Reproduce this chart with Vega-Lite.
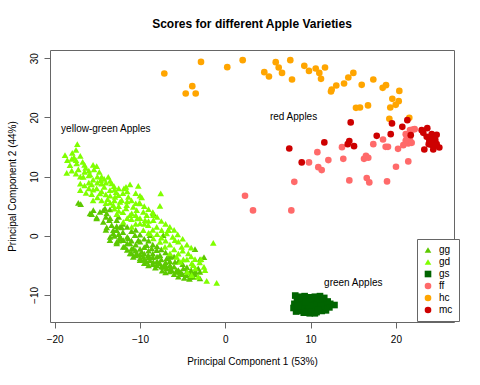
{
 "$schema": "https://vega.github.io/schema/vega-lite/v6.json",
 "width": 404,
 "height": 272,
 "autosize": {"type": "none"},
 "padding": {"left": 50, "top": 50, "right": 26, "bottom": 63},
 "background": "white",
 "title": {"text": "Scores for different Apple Varieties", "font": "Liberation Sans", "fontSize": 12, "fontWeight": "bold", "color": "#000", "anchor": "middle", "offset": 19},
 "config": {"view": {"stroke": "#666", "strokeWidth": 1}, "font": "Liberation Sans"},
 "layer": [
  {
   "data": {"values": [
    {"g":"gg","x":-17.23,"y":5.57},{"g":"gg","x":-16.95,"y":5.35},{"g":"gg","x":-15.47,"y":4.34},{"g":"gg","x":-15.66,"y":3.67},{"g":"gg","x":-14.69,"y":4.05},{"g":"gg","x":-15.08,"y":3.11},{"g":"gg","x":-14.3,"y":2.36},{"g":"gg","x":-13.6,"y":2.65},{"g":"gg","x":-13.32,"y":1.81},{"g":"gg","x":-13.9,"y":1.42},{"g":"gg","x":-12.73,"y":1.64},{"g":"gg","x":-14.1,"y":4.63},{"g":"gg","x":-13.52,"y":4.46},{"g":"gg","x":-12.73,"y":2.65},{"g":"gg","x":-12.15,"y":1.42},{"g":"gg","x":-15.86,"y":3.78},{"g":"gg","x":-15.08,"y":2.94},{"g":"gg","x":-13.13,"y":0.96},{"g":"gg","x":-13.52,"y":-0.73},{"g":"gg","x":-12.73,"y":-1.28},{"g":"gg","x":-11.96,"y":-1.86},{"g":"gg","x":-11.17,"y":-2.97},{"g":"gg","x":-10.79,"y":-3.55},{"g":"gg","x":-10.0,"y":-4.1},{"g":"gg","x":-9.21,"y":-4.39},{"g":"gg","x":-8.04,"y":-4.95},{"g":"gg","x":-7.27,"y":-5.24},{"g":"gg","x":-6.48,"y":-5.51},{"g":"gg","x":-5.7,"y":-6.08},{"g":"gg","x":-5.11,"y":-6.35},{"g":"gg","x":-4.53,"y":-6.64},{"g":"gg","x":-3.75,"y":-6.93},{"g":"gg","x":-2.97,"y":-7.2},{"g":"gg","x":-3.55,"y":-2.25},{"g":"gg","x":-13.9,"y":3.78},{"g":"gg","x":-14.3,"y":4.34},{"g":"gg","x":-12.73,"y":0.96},{"g":"gg","x":-13.13,"y":0.41},{"g":"gg","x":-12.34,"y":-0.17},{"g":"gg","x":-11.96,"y":-0.73},{"g":"gg","x":-12.73,"y":-1.01},{"g":"gg","x":-11.37,"y":-0.44},{"g":"gg","x":-11.17,"y":-1.28},{"g":"gg","x":-11.76,"y":-1.86},{"g":"gg","x":-10.79,"y":-2.13},{"g":"gg","x":-10.39,"y":-2.97},{"g":"gg","x":-10.97,"y":-2.97},{"g":"gg","x":-9.8,"y":-2.7},{"g":"gg","x":-9.61,"y":-3.55},{"g":"gg","x":-10.0,"y":-3.82},{"g":"gg","x":-9.03,"y":-3.26},{"g":"gg","x":-8.83,"y":-4.1},{"g":"gg","x":-8.44,"y":-4.39},{"g":"gg","x":-7.66,"y":-4.66},{"g":"gg","x":-6.87,"y":-5.51},{"g":"gg","x":-6.48,"y":-4.95},{"g":"gg","x":-6.28,"y":-5.79},{"g":"gg","x":-5.7,"y":-5.79},{"g":"gg","x":-5.31,"y":-6.08},{"g":"gg","x":-4.92,"y":-5.51},{"g":"gg","x":-4.14,"y":-6.93},{"g":"gg","x":-3.55,"y":-6.47},{"g":"gg","x":-2.97,"y":-6.08},{"g":"gg","x":-3.17,"y":-5.51},{"g":"gg","x":-2.97,"y":-3.99},{"g":"gg","x":-9.21,"y":-1.57},{"g":"gg","x":-8.63,"y":-2.13},{"g":"gg","x":-8.04,"y":-2.42},{"g":"gg","x":-7.66,"y":-3.26},{"g":"gg","x":-6.87,"y":-3.82},{"g":"gg","x":-6.48,"y":-3.55},{"g":"gg","x":-5.9,"y":-4.39},{"g":"gg","x":-10.2,"y":-0.73},{"g":"gg","x":-10.59,"y":0.12},{"g":"gg","x":-12.34,"y":1.52},{"g":"gg","x":-8.44,"y":3.78},{"g":"gg","x":-8.83,"y":0.12},{"g":"gg","x":-6.68,"y":0.96},{"g":"gg","x":-7.27,"y":0.12},{"g":"gg","x":-9.5,"y":-4.6},{"g":"gg","x":-8.2,"y":-5.4},{"g":"gg","x":-7.4,"y":-5.9},{"g":"gg","x":-6.0,"y":-6.5},{"g":"gg","x":-4.8,"y":-7.1},{"g":"gg","x":-11.5,"y":-2.4},{"g":"gg","x":-10.5,"y":-3.3},{"g":"gg","x":-12.2,"y":-0.5},{"g":"gg","x":-13.0,"y":0.0},{"g":"gg","x":-9.0,"y":-5.0},{"g":"gg","x":-7.0,"y":-6.2},{"g":"gg","x":-5.5,"y":-6.9},{"g":"gg","x":-4.2,"y":-7.3},{"g":"gg","x":-2.5,"y":-3.6},
    {"g":"gg","x":-14.0,"y":3.2},{"g":"gg","x":-14.0,"y":1.0},{"g":"gg","x":-13.5,"y":3.0},{"g":"gg","x":-13.5,"y":-0.2},{"g":"gg","x":-12.5,"y":3.2},{"g":"gg","x":-12.5,"y":0.3},{"g":"gg","x":-12.5,"y":-0.8},{"g":"gg","x":-12.0,"y":2.0},{"g":"gg","x":-12.0,"y":0.6},{"g":"gg","x":-11.5,"y":1.5},{"g":"gg","x":-11.5,"y":-0.2},{"g":"gg","x":-11.5,"y":-1.3},{"g":"gg","x":-11.0,"y":0.8},{"g":"gg","x":-11.0,"y":-0.8},{"g":"gg","x":-11.0,"y":-2.2},{"g":"gg","x":-10.5,"y":1.0},{"g":"gg","x":-10.5,"y":-1.5},{"g":"gg","x":-10.5,"y":-2.5},{"g":"gg","x":-10.0,"y":0.2},{"g":"gg","x":-10.0,"y":-1.0},{"g":"gg","x":-10.0,"y":-2.2},{"g":"gg","x":-10.0,"y":-3.2},{"g":"gg","x":-9.5,"y":-0.5},{"g":"gg","x":-9.5,"y":-1.9},{"g":"gg","x":-9.5,"y":-3.0},{"g":"gg","x":-9.5,"y":-4.0},{"g":"gg","x":-9.0,"y":-0.8},{"g":"gg","x":-9.0,"y":-2.5},{"g":"gg","x":-9.0,"y":-3.6},{"g":"gg","x":-8.5,"y":-1.5},{"g":"gg","x":-8.5,"y":-3.0},{"g":"gg","x":-8.5,"y":-3.6},{"g":"gg","x":-8.5,"y":-4.8},{"g":"gg","x":-8.0,"y":-1.8},{"g":"gg","x":-8.0,"y":-3.5},{"g":"gg","x":-8.0,"y":-4.3},{"g":"gg","x":-7.5,"y":-2.3},{"g":"gg","x":-7.5,"y":-4.0},{"g":"gg","x":-7.5,"y":-5.2},{"g":"gg","x":-7.0,"y":-2.8},{"g":"gg","x":-7.0,"y":-4.5},{"g":"gg","x":-7.0,"y":-5.0},{"g":"gg","x":-6.5,"y":-3.2},{"g":"gg","x":-6.5,"y":-4.3},{"g":"gg","x":-6.5,"y":-6.0},{"g":"gg","x":-6.0,"y":-3.5},{"g":"gg","x":-6.0,"y":-5.2},{"g":"gg","x":-5.5,"y":-4.3},{"g":"gg","x":-5.5,"y":-5.8},{"g":"gg","x":-5.0,"y":-4.8},{"g":"gg","x":-5.0,"y":-6.5},{"g":"gg","x":-4.5,"y":-5.3},{"g":"gg","x":-4.5,"y":-6.0},{"g":"gg","x":-4.0,"y":-5.8},{"g":"gg","x":-4.0,"y":-6.2},{"g":"gg","x":-3.5,"y":-6.0},
    {"g":"gd","x":-17.35,"y":15.49},{"g":"gd","x":-18.79,"y":13.63},{"g":"gd","x":-17.94,"y":14.02},{"g":"gd","x":-17.74,"y":13.24},{"g":"gd","x":-18.52,"y":12.79},{"g":"gd","x":-18.21,"y":11.94},{"g":"gd","x":-17.42,"y":12.23},{"g":"gd","x":-16.72,"y":12.5},{"g":"gd","x":-18.59,"y":10.64},{"g":"gd","x":-17.23,"y":11.22},{"g":"gd","x":-16.37,"y":11.49},{"g":"gd","x":-15.08,"y":11.77},{"g":"gd","x":-15.39,"y":11.22},{"g":"gd","x":-14.77,"y":10.81},{"g":"gd","x":-15.86,"y":10.37},{"g":"gd","x":-16.65,"y":9.97},{"g":"gd","x":-14.61,"y":9.41},{"g":"gd","x":-15.66,"y":8.68},{"g":"gd","x":-17.0,"y":7.72},{"g":"gd","x":-16.33,"y":7.26},{"g":"gd","x":-15.08,"y":8.01},{"g":"gd","x":-15.66,"y":7.04},{"g":"gd","x":-14.69,"y":7.16},{"g":"gd","x":-13.52,"y":7.72},{"g":"gd","x":-14.19,"y":8.28},{"g":"gd","x":-13.32,"y":8.85},{"g":"gd","x":-11.64,"y":8.28},{"g":"gd","x":-11.17,"y":8.68},{"g":"gd","x":-10.2,"y":8.45},{"g":"gd","x":-12.54,"y":6.88},{"g":"gd","x":-12.15,"y":6.03},{"g":"gd","x":-12.93,"y":6.59},{"g":"gd","x":-11.37,"y":6.59},{"g":"gd","x":-10.08,"y":5.57},{"g":"gd","x":-10.79,"y":4.9},{"g":"gd","x":-11.64,"y":4.63},{"g":"gd","x":-9.61,"y":4.05},{"g":"gd","x":-12.73,"y":3.67},{"g":"gd","x":-11.17,"y":3.5},{"g":"gd","x":-10.32,"y":2.94},{"g":"gd","x":-9.41,"y":2.65},{"g":"gd","x":-11.96,"y":2.36},{"g":"gd","x":-10.97,"y":1.52},{"g":"gd","x":-13.72,"y":9.97},{"g":"gd","x":-13.05,"y":8.4},{"g":"gd","x":-11.88,"y":8.01},{"g":"gd","x":-7.57,"y":7.16},{"g":"gd","x":-7.66,"y":5.07},{"g":"gd","x":-8.44,"y":3.5},{"g":"gd","x":-6.68,"y":0.96},{"g":"gd","x":-5.58,"y":0.24},{"g":"gd","x":-1.41,"y":-1.18},{"g":"gd","x":-2.85,"y":-3.94},{"g":"gd","x":-2.38,"y":-5.79},{"g":"gd","x":-2.18,"y":-7.6},{"g":"gd","x":-1.01,"y":-7.94},{"g":"gd","x":-6.17,"y":-0.17},{"g":"gd","x":-3.55,"y":-3.94},{"g":"gd","x":-2.5,"y":-5.24},{"g":"gd","x":-3.75,"y":-4.95},{"g":"gd","x":-4.45,"y":-6.08},{"g":"gd","x":-5.31,"y":-4.39},{"g":"gd","x":-4.92,"y":-3.99},{"g":"gd","x":-5.7,"y":-3.55},{"g":"gd","x":-6.48,"y":-2.97},{"g":"gd","x":-7.07,"y":-1.86},{"g":"gd","x":-7.66,"y":-1.01},{"g":"gd","x":-8.44,"y":-0.44},{"g":"gd","x":-8.83,"y":0.41},{"g":"gd","x":-9.61,"y":0.96},{"g":"gd","x":-10.0,"y":2.09},{"g":"gd","x":-9.03,"y":1.81},{"g":"gd","x":-8.04,"y":1.52},{"g":"gd","x":-7.46,"y":0.96},{"g":"gd","x":-6.87,"y":0.41},{"g":"gd","x":-10.97,"y":3.78},{"g":"gd","x":-10.39,"y":4.34},{"g":"gd","x":-10.0,"y":5.47},{"g":"gd","x":-12.34,"y":5.74},{"g":"gd","x":-13.13,"y":5.19},{"g":"gd","x":-11.56,"y":5.19},{"g":"gd","x":-9.21,"y":3.5},{"g":"gd","x":-8.44,"y":2.65},{"g":"gd","x":-5.9,"y":-0.73},{"g":"gd","x":-5.11,"y":-1.86},{"g":"gd","x":-4.34,"y":-2.97},{"g":"gd","x":-3.94,"y":-4.66},{"g":"gd","x":-3.17,"y":-6.93},{"g":"gd","x":-3.94,"y":-6.64},{"g":"gd","x":-14.2,"y":9.6},{"g":"gd","x":-12.8,"y":7.4},{"g":"gd","x":-16.0,"y":9.0},{"g":"gd","x":-13.8,"y":6.2},{"g":"gd","x":-9.8,"y":6.5},
    {"g":"gd","x":-18.0,"y":13.0},{"g":"gd","x":-18.0,"y":11.0},{"g":"gd","x":-17.5,"y":14.5},{"g":"gd","x":-17.5,"y":12.8},{"g":"gd","x":-17.5,"y":10.5},{"g":"gd","x":-17.0,"y":13.5},{"g":"gd","x":-17.0,"y":10.0},{"g":"gd","x":-17.0,"y":8.8},{"g":"gd","x":-16.5,"y":12.0},{"g":"gd","x":-16.5,"y":10.8},{"g":"gd","x":-16.5,"y":8.5},{"g":"gd","x":-16.0,"y":11.0},{"g":"gd","x":-16.0,"y":10.2},{"g":"gd","x":-16.0,"y":8.0},{"g":"gd","x":-15.5,"y":12.0},{"g":"gd","x":-15.5,"y":9.5},{"g":"gd","x":-15.5,"y":7.8},{"g":"gd","x":-15.5,"y":6.0},{"g":"gd","x":-15.0,"y":10.0},{"g":"gd","x":-15.0,"y":9.0},{"g":"gd","x":-15.0,"y":6.5},{"g":"gd","x":-14.5,"y":10.0},{"g":"gd","x":-14.5,"y":8.8},{"g":"gd","x":-14.5,"y":7.5},{"g":"gd","x":-14.5,"y":6.0},{"g":"gd","x":-14.0,"y":9.0},{"g":"gd","x":-14.0,"y":7.0},{"g":"gd","x":-14.0,"y":5.5},{"g":"gd","x":-13.5,"y":9.3},{"g":"gd","x":-13.5,"y":6.8},{"g":"gd","x":-13.5,"y":5.6},{"g":"gd","x":-13.0,"y":7.8},{"g":"gd","x":-13.0,"y":6.0},{"g":"gd","x":-13.0,"y":4.6},{"g":"gd","x":-12.5,"y":8.0},{"g":"gd","x":-12.5,"y":5.0},{"g":"gd","x":-12.5,"y":4.2},{"g":"gd","x":-12.0,"y":7.2},{"g":"gd","x":-12.0,"y":4.0},{"g":"gd","x":-11.5,"y":7.5},{"g":"gd","x":-11.5,"y":5.8},{"g":"gd","x":-11.5,"y":3.0},{"g":"gd","x":-11.0,"y":6.0},{"g":"gd","x":-11.0,"y":2.8},{"g":"gd","x":-10.5,"y":7.2},{"g":"gd","x":-10.5,"y":5.5},{"g":"gd","x":-10.5,"y":3.5},{"g":"gd","x":-10.5,"y":2.0},{"g":"gd","x":-10.0,"y":6.8},{"g":"gd","x":-10.0,"y":3.0},{"g":"gd","x":-9.5,"y":5.0},{"g":"gd","x":-9.5,"y":2.0},{"g":"gd","x":-9.0,"y":4.5},{"g":"gd","x":-9.0,"y":2.5},{"g":"gd","x":-9.0,"y":0.5},{"g":"gd","x":-8.5,"y":4.0},{"g":"gd","x":-8.5,"y":1.0},{"g":"gd","x":-8.0,"y":3.2},{"g":"gd","x":-8.0,"y":0.3},{"g":"gd","x":-7.5,"y":2.5},{"g":"gd","x":-7.5,"y":-0.3},{"g":"gd","x":-7.0,"y":2.0},{"g":"gd","x":-7.0,"y":-0.8},{"g":"gd","x":-6.5,"y":1.5},{"g":"gd","x":-6.5,"y":-1.5},{"g":"gd","x":-6.0,"y":1.0},{"g":"gd","x":-6.0,"y":-2.3},{"g":"gd","x":-5.5,"y":-1.0},{"g":"gd","x":-5.5,"y":-3.0},{"g":"gd","x":-5.0,"y":-0.5},{"g":"gd","x":-5.0,"y":-2.5},{"g":"gd","x":-4.5,"y":-1.5},{"g":"gd","x":-4.5,"y":-4.0},{"g":"gd","x":-4.0,"y":-2.0},{"g":"gd","x":-4.0,"y":-3.5},{"g":"gd","x":-3.5,"y":-5.5},{"g":"gd","x":-3.0,"y":-4.5},
    {"g":"gs","x":8.2,"y":-10.1},{"g":"gs","x":8.7,"y":-10.3},{"g":"gs","x":9.3,"y":-10.2},{"g":"gs","x":9.9,"y":-10.4},{"g":"gs","x":10.5,"y":-10.3},{"g":"gs","x":11.1,"y":-10.2},{"g":"gs","x":11.6,"y":-10.5},{"g":"gs","x":8.4,"y":-10.8},{"g":"gs","x":9.0,"y":-10.9},{"g":"gs","x":9.6,"y":-10.8},{"g":"gs","x":10.2,"y":-11.0},{"g":"gs","x":10.8,"y":-10.9},{"g":"gs","x":11.4,"y":-11.0},{"g":"gs","x":12.0,"y":-11.1},{"g":"gs","x":8.1,"y":-11.5},{"g":"gs","x":8.7,"y":-11.4},{"g":"gs","x":9.3,"y":-11.6},{"g":"gs","x":9.9,"y":-11.5},{"g":"gs","x":10.5,"y":-11.6},{"g":"gs","x":11.1,"y":-11.5},{"g":"gs","x":11.7,"y":-11.6},{"g":"gs","x":12.3,"y":-11.5},{"g":"gs","x":12.8,"y":-11.7},{"g":"gs","x":8.0,"y":-12.2},{"g":"gs","x":8.6,"y":-12.1},{"g":"gs","x":9.2,"y":-12.3},{"g":"gs","x":9.8,"y":-12.2},{"g":"gs","x":10.4,"y":-12.3},{"g":"gs","x":11.0,"y":-12.2},{"g":"gs","x":11.6,"y":-12.3},{"g":"gs","x":12.2,"y":-12.1},{"g":"gs","x":8.3,"y":-12.8},{"g":"gs","x":8.9,"y":-12.7},{"g":"gs","x":9.5,"y":-12.9},{"g":"gs","x":10.1,"y":-12.8},{"g":"gs","x":10.7,"y":-12.9},{"g":"gs","x":11.3,"y":-12.7},{"g":"gs","x":11.8,"y":-12.6},{"g":"gs","x":9.9,"y":-13.1},{"g":"gs","x":9.2,"y":-13.0},{"g":"gs","x":10.5,"y":-13.1},{"g":"gs","x":9.0,"y":-10.5},{"g":"gs","x":10.0,"y":-11.8},{"g":"gs","x":10.6,"y":-12.0},{"g":"gs","x":9.4,"y":-11.2},{"g":"gs","x":11.2,"y":-11.9},{"g":"gs","x":8.5,"y":-11.9},{"g":"gs","x":10.9,"y":-12.5},
    {"g":"ff","x":21.97,"y":17.97},{"g":"ff","x":21.65,"y":17.86},{"g":"ff","x":22.2,"y":18.02},{"g":"ff","x":21.15,"y":17.18},{"g":"ff","x":21.27,"y":16.45},{"g":"ff","x":21.65,"y":16.17},{"g":"ff","x":21.85,"y":15.71},{"g":"ff","x":21.45,"y":15.61},{"g":"ff","x":20.87,"y":15.32},{"g":"ff","x":21.15,"y":16.05},{"g":"ff","x":20.25,"y":14.7},{"g":"ff","x":18.49,"y":16.28},{"g":"ff","x":18.8,"y":15.03},{"g":"ff","x":19.07,"y":15.03},{"g":"ff","x":17.35,"y":15.49},{"g":"ff","x":13.68,"y":14.98},{"g":"ff","x":10.79,"y":14.14},{"g":"ff","x":9.81,"y":12.4},{"g":"ff","x":12.08,"y":12.79},{"g":"ff","x":13.83,"y":13.01},{"g":"ff","x":16.26,"y":13.01},{"g":"ff","x":16.49,"y":13.51},{"g":"ff","x":16.76,"y":13.18},{"g":"ff","x":10.9,"y":11.6},{"g":"ff","x":11.3,"y":11.1},{"g":"ff","x":21.45,"y":12.57},{"g":"ff","x":20.01,"y":11.66},{"g":"ff","x":8.09,"y":9.12},{"g":"ff","x":14.54,"y":9.36},{"g":"ff","x":16.58,"y":9.75},{"g":"ff","x":16.88,"y":9.02},{"g":"ff","x":18.96,"y":9.19},{"g":"ff","x":2.31,"y":6.76},{"g":"ff","x":3.25,"y":4.29},{"g":"ff","x":7.74,"y":4.29},
    {"g":"hc","x":-7.15,"y":27.43},{"g":"hc","x":-2.85,"y":29.39},{"g":"hc","x":-3.87,"y":25.29},{"g":"hc","x":-4.64,"y":24.05},{"g":"hc","x":-3.47,"y":24.05},{"g":"hc","x":0.23,"y":28.5},{"g":"hc","x":2.04,"y":29.68},{"g":"hc","x":5.91,"y":29.34},{"g":"hc","x":6.26,"y":28.45},{"g":"hc","x":4.57,"y":27.65},{"g":"hc","x":5.12,"y":26.93},{"g":"hc","x":6.65,"y":27.53},{"g":"hc","x":7.62,"y":29.68},{"g":"hc","x":7.82,"y":26.42},{"g":"hc","x":9.26,"y":28.72},{"g":"hc","x":9.81,"y":27.87},{"g":"hc","x":10.6,"y":28.28},{"g":"hc","x":11.02,"y":27.53},{"g":"hc","x":11.69,"y":28.45},{"g":"hc","x":11.22,"y":26.52},{"g":"hc","x":15.01,"y":27.53},{"g":"hc","x":14.42,"y":26.76},{"g":"hc","x":13.92,"y":25.74},{"g":"hc","x":13.01,"y":25.41},{"g":"hc","x":12.47,"y":24.73},{"g":"hc","x":12.39,"y":24.39},{"g":"hc","x":15.99,"y":25.51},{"g":"hc","x":17.35,"y":26.42},{"g":"hc","x":18.84,"y":25.46},{"g":"hc","x":18.45,"y":25.0},{"g":"hc","x":20.4,"y":24.49},{"g":"hc","x":19.58,"y":23.14},{"g":"hc","x":20.33,"y":22.75},{"g":"hc","x":19.98,"y":22.13},{"g":"hc","x":19.34,"y":21.69},{"g":"hc","x":15.32,"y":21.62},{"g":"hc","x":15.79,"y":21.69},{"g":"hc","x":16.73,"y":22.03},{"g":"hc","x":19.23,"y":19.76},{"g":"hc","x":21.57,"y":19.93},
    {"g":"mc","x":14.7,"y":19.16},{"g":"mc","x":19.54,"y":18.99},{"g":"mc","x":21.34,"y":19.54},{"g":"mc","x":20.75,"y":18.41},{"g":"mc","x":19.39,"y":17.18},{"g":"mc","x":17.75,"y":16.89},{"g":"mc","x":21.74,"y":17.01},{"g":"mc","x":11.61,"y":15.78},{"g":"mc","x":14.54,"y":16.0},{"g":"mc","x":14.35,"y":15.49},{"g":"mc","x":15.09,"y":15.15},{"g":"mc","x":7.5,"y":14.76},{"g":"mc","x":8.96,"y":12.4},{"g":"mc","x":23.02,"y":17.85},{"g":"mc","x":23.21,"y":17.4},{"g":"mc","x":23.68,"y":18.19},{"g":"mc","x":24.2,"y":17.18},{"g":"mc","x":23.61,"y":16.72},{"g":"mc","x":24.0,"y":16.72},{"g":"mc","x":24.47,"y":16.84},{"g":"mc","x":24.78,"y":17.06},{"g":"mc","x":23.92,"y":16.05},{"g":"mc","x":24.23,"y":15.83},{"g":"mc","x":24.62,"y":16.17},{"g":"mc","x":24.78,"y":15.49},{"g":"mc","x":24.15,"y":15.37},{"g":"mc","x":24.38,"y":14.59},{"g":"mc","x":25.09,"y":14.93},{"g":"mc","x":23.33,"y":14.59},{"g":"mc","x":23.85,"y":15.49},{"g":"mc","x":24.47,"y":15.15},{"g":"mc","x":24.23,"y":16.5}
   ]},
   "mark": {"type": "point", "filled": true, "opacity": 1, "strokeWidth": 0},
   "encoding": {
    "x": {"field": "x", "type": "quantitative", "scale": {"domain": [-20.55, 26.81], "nice": false, "zero": false},
     "axis": {"values": [-20, -10, 0, 10, 20], "domain": false, "grid": false, "tickSize": 6, "tickColor": "#666", "labelFont": "Liberation Sans", "labelFontSize": 10, "labelColor": "#000", "labelPadding": 6, "labelFlush": false, "title": "Principal Component 1 (53%)", "titleFont": "Liberation Sans", "titleFontSize": 10, "titleFontWeight": "normal", "titleColor": "#000", "titlePadding": 12}},
    "y": {"field": "y", "type": "quantitative", "scale": {"domain": [-14.57, 31.4], "nice": false, "zero": false},
     "axis": {"values": [-10, 0, 10, 20, 30], "domain": false, "grid": false, "tickSize": 6, "tickColor": "#666", "labelFont": "Liberation Sans", "labelFontSize": 10, "labelColor": "#000", "labelAngle": -90, "labelAlign": "center", "labelBaseline": "bottom", "labelPadding": 5, "labelFlush": false, "title": "Principal Component 2 (44%)", "titleFont": "Liberation Sans", "titleFontSize": 10, "titleFontWeight": "normal", "titleColor": "#000", "titlePadding": 12}},
    "color": {"field": "g", "type": "nominal", "scale": {"domain": ["gg", "gd", "gs", "ff", "hc", "mc"], "range": ["#5CC800", "#80FF00", "#006400", "#FF6A6A", "#FFA500", "#CD0000"]},
     "legend": {"title": null, "orient": "none", "legendX": 367, "legendY": 189, "strokeColor": "#666", "fillColor": "white", "padding": 6, "symbolSize": 30, "symbolStrokeWidth": 0, "labelFont": "Liberation Sans", "labelFontSize": 10, "labelColor": "#000", "labelOffset": 6, "rowPadding": 2}},
    "shape": {"field": "g", "type": "nominal", "scale": {"domain": ["gg", "gd", "gs", "ff", "hc", "mc"], "range": ["triangle-up", "triangle-up", "square", "circle", "circle", "circle"]},
     "legend": {"title": null, "orient": "none", "legendX": 367, "legendY": 189, "strokeColor": "#666", "fillColor": "white", "padding": 6, "symbolSize": 30, "symbolStrokeWidth": 0, "labelFont": "Liberation Sans", "labelFontSize": 10, "labelColor": "#000", "labelOffset": 6, "rowPadding": 2}},
    "size": {"field": "g", "type": "nominal", "scale": {"domain": ["gg", "gd", "gs", "ff", "hc", "mc"], "range": [44, 44, 30, 28, 28, 28]}, "legend": null}
   }
  },
  {
   "data": {"values": [
    {"t": "yellow-green Apples", "x": -14, "y": 18},
    {"t": "red Apples", "x": 8, "y": 20},
    {"t": "green Apples", "x": 15, "y": -8}
   ]},
   "mark": {"type": "text", "font": "Liberation Sans", "fontSize": 10, "color": "#000", "align": "center", "baseline": "middle"},
   "encoding": {
    "x": {"field": "x", "type": "quantitative"},
    "y": {"field": "y", "type": "quantitative"},
    "text": {"field": "t"}
   }
  }
 ]
}
